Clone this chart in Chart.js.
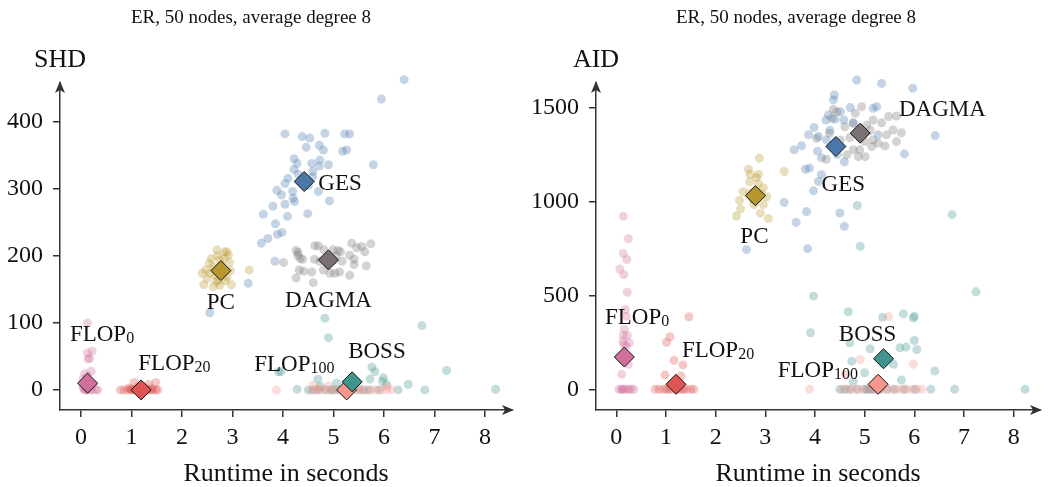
<!DOCTYPE html>
<html>
<head>
<meta charset="utf-8">
<script src="https://cdn.jsdelivr.net/npm/chart.js@4.4.1/dist/chart.umd.min.js"></script>
<style>
  html, body { margin: 0; padding: 0; background: #fff; }
  #wrap { position: relative; width: 1051px; height: 487px; overflow: hidden; }
  .panel { position: absolute; top: 0; height: 487px; }
</style>
</head>
<body>
<div id="wrap">
  <div class="panel" style="left:0;width:525px"><canvas id="chartShd" width="525" height="487"></canvas></div>
  <div class="panel" style="left:525px;width:526px"><canvas id="chartAid" width="526" height="487"></canvas></div>
</div>
<script>
// ---- data (runtime in seconds, metric value) ----
const algoNames = ["FLOP", "FLOP", "FLOP", "BOSS", "GES", "PC", "DAGMA"];
const algoSubs = ["0", "20", "100", "", "", "", ""];
const algoColors = [
  [208, 112, 154], [224, 84, 84], [248, 150, 142], [64, 150, 142],
  [74, 120, 170], [184, 152, 44], [122, 114, 114]
];

const titleText = "ER, 50 nodes, average degree 8";
const xTitle = "Runtime in seconds";
const runtimeTicks = [0, 1, 2, 3, 4, 5, 6, 7, 8];
const shdTicks = [0, 100, 200, 300, 400];
const aidTicks = [0, 500, 1000, 1500];

// SHD
const flop0Shd = [[0.13,100],[0.13,55],[0.22,58],[0.14,46],[0.17,47],[0.20,28],[0.07,24],[0.13,21],
  [0.04,16],[0.17,8],[0.07,0],[0.13,0],[0.22,0],[0.30,0],[0.33,0],[0.04,5],[0.24,8],[0.09,10],
  [0.10,0],[0.18,0],[0.05,2],[0.15,4]];
const flop20Shd = [[0.78,0],[0.85,0],[0.92,0],[0.98,0],[1.02,0],[1.05,0],[1.10,0],[1.15,0],[1.22,0],
  [1.28,0],[1.32,0],[1.38,0],[1.42,0],[1.48,0],[1.52,0],[1.05,11],[1.48,11],[1.34,8],[1.14,6],
  [1.25,4],[0.95,3],[1.40,2],[1.18,2],[1.30,0],[1.00,1]];
const flop100Shd = [[3.87,0],[4.55,0],[4.65,0],[4.75,0],[4.85,0],[4.95,0],[5.05,0],[5.15,0],[5.25,0],
  [5.35,0],[5.45,0],[5.55,0],[5.65,0],[5.75,0],[5.85,0],[5.95,0],[6.05,0],[6.15,0],[4.60,7],
  [4.90,6],[6.06,5],[5.20,3],[5.50,4],[4.70,2]];
const bossShd = [[4.83,107],[4.90,78],[6.75,96],[5.76,34],[5.82,27],[5.99,18],[5.72,16],[5.97,13],
  [7.24,29],[3.96,27],[3.91,27],[4.69,16],[6.48,8],[4.28,1],[6.81,0],[8.21,1],[6.28,0],[6.05,8],
  [5.39,8],[5.06,10],[4.74,5],[4.50,0],[4.60,0],[4.70,0],[4.85,0],[4.95,0],[5.00,0],[5.10,0],
  [5.20,0],[5.50,0],[5.60,0],[5.70,0],[5.90,0]];
const gesShd = [[6.40,463],[5.95,434],[4.04,382],[4.38,378],[4.53,376],[4.83,383],[5.22,382],[5.32,382],
  [4.46,362],[4.72,365],[4.80,358],[5.18,356],[5.26,358],[4.22,345],[4.28,338],[4.57,338],
  [4.73,343],[4.72,334],[4.90,336],[5.79,336],[4.59,326],[4.22,329],[4.10,316],[4.04,308],
  [4.59,318],[3.88,298],[3.97,291],[4.19,296],[4.20,286],[4.70,296],[4.92,282],[4.23,281],
  [4.04,277],[3.80,274],[3.61,262],[4.09,259],[4.49,263],[3.85,248],[3.70,226],[3.57,219],
  [3.98,235],[3.89,232],[3.84,192],[3.31,159],[2.55,115],[4.30,322],[4.50,305]];
const pcShd = [[2.69,209],[2.89,206],[2.84,206],[2.54,189],[2.94,190],[2.40,174],[2.96,178],[2.43,157],
  [2.62,154],[2.75,156],[2.98,157],[2.89,168],[2.56,174],[2.62,184],[2.75,194],[2.84,197],
  [2.50,166],[2.72,163],[3.33,179],[2.92,201],[2.47,179],[2.66,171],[2.80,174],[2.86,163],
  [2.70,200],[2.58,196],[2.78,186],[2.68,162]];
const dagmaShd = [[4.63,215],[4.70,215],[5.36,219],[5.56,214],[5.74,218],[5.46,212],[5.62,206],[4.26,208],
  [4.29,201],[4.34,196],[4.39,195],[4.62,195],[4.81,209],[4.99,209],[5.09,208],[5.14,206],
  [5.32,201],[5.41,195],[5.41,187],[4.01,190],[4.32,179],[4.41,177],[4.57,176],[4.80,179],
  [4.93,174],[5.03,174],[5.12,176],[5.32,171],[5.65,185],[4.26,167],[4.60,160],[4.99,193],
  [4.73,192],[5.17,192],[4.30,205],[5.05,200]];
const medianShd = [[0.13,10],[1.19,0],[5.26,0],[5.37,12],[4.42,311],[2.77,178],[4.90,194]];

// AID
const flop0Aid = [[0.14,921],[0.24,802],[0.14,723],[0.21,691],[0.07,641],[0.15,611],[0.22,517],[0.18,425],
  [0.20,389],[0.16,319],[0.14,287],[0.22,287],[0.13,257],[0.26,248],[0.20,230],[0.15,239],
  [0.24,133],[0.11,80],[0.05,0],[0.10,0],[0.15,0],[0.20,0],[0.25,0],[0.30,0],[0.35,0],[0.12,0]];
const flop20Aid = [[1.46,386],[1.08,280],[1.01,251],[1.16,154],[1.34,130],[0.98,76],[1.30,71],
  [0.78,0],[0.86,0],[0.95,0],[1.01,0],[1.06,0],[1.11,0],[1.21,0],[1.26,0],[1.31,0],[1.36,0],
  [1.41,0],[1.50,0],[1.56,0]];
const flop100Aid = [[3.89,0],[4.55,0],[4.65,0],[4.75,0],[4.85,0],[4.95,0],[5.05,0],[5.15,0],[5.25,0],
  [5.35,0],[5.45,0],[5.55,0],[5.65,0],[5.75,0],[5.85,0],[5.95,0],[6.05,0],[6.15,0],
  [5.48,387],[4.91,159],[5.98,133],[4.61,80]];
const bossAid = [[4.85,979],[6.76,930],[4.91,762],[3.97,496],[7.24,519],[4.67,413],[5.78,402],[5.36,384],
  [6.00,389],[5.98,380],[3.91,301],[4.70,248],[6.00,260],[5.11,216],[5.71,221],[5.83,225],
  [6.05,212],[4.74,150],[5.58,133],[6.41,97],[5.74,50],[4.77,41],[5.00,88],[6.33,0],[6.81,0],
  [8.23,0],[6.01,0],[4.50,0],[4.60,0],[4.70,0],[4.85,0],[5.00,0],[5.05,0],[5.10,0],[5.15,0],
  [5.20,0],[5.30,0],[5.45,0],[5.60,0],[5.80,0]];
const gesAid = [[4.84,1647],[5.34,1629],[5.97,1603],[4.39,1567],[4.37,1541],[4.71,1500],[5.24,1505],[5.17,1496],
  [4.22,1434],[4.40,1438],[4.58,1434],[4.77,1419],[3.98,1394],[3.87,1355],[4.07,1346],[4.23,1328],
  [5.27,1355],[6.42,1351],[3.58,1275],[3.73,1297],[4.05,1268],[4.13,1232],[4.59,1211],[5.80,1254],
  [3.81,1172],[3.89,1178],[4.13,1143],[4.07,1107],[3.97,1057],[3.38,995],[3.83,947],[4.50,939],
  [3.62,889],[4.59,868],[3.85,749],[2.62,744],[4.27,1460],[4.51,1478],[4.30,1380],[4.45,1250]];
const pcAid = [[2.88,1231],[2.66,1172],[3.38,1160],[2.69,1145],[2.86,1145],[2.82,1128],[2.68,1105],[2.96,1073],
  [2.55,1052],[3.03,1025],[2.48,1007],[2.77,984],[2.96,984],[2.50,961],[2.90,938],[2.42,923],
  [3.06,909],[2.69,1047],[2.86,1094],[2.75,1010],[2.92,1040]];
const dagmaAid = [[4.37,1490],[4.94,1505],[4.81,1470],[4.44,1478],[4.34,1443],[5.17,1434],[5.48,1452],[5.64,1455],
  [5.34,1419],[4.77,1416],[5.04,1407],[4.60,1398],[4.03,1336],[4.29,1363],[5.57,1381],[5.74,1366],
  [5.44,1355],[5.17,1328],[5.14,1293],[5.41,1296],[5.64,1319],[4.77,1275],[4.64,1248],[4.87,1239],
  [5.01,1239],[4.23,1225],[5.27,1310],[4.90,1275],[5.11,1381],[4.51,1328],[4.70,1340],[5.00,1320]];
const medianAid = [[0.16,172],[1.20,27],[5.27,27],[5.38,163],[4.42,1293],[2.80,1031],[4.91,1364]];

// label anchors (data units) and alignment
const shdLabelX = [-0.22, 1.135, 3.43, 5.29, 4.70, 2.77, 4.90];
const shdLabelY = [85, 41, 40, 60, 311, 132, 135];
const shdLabelAlign = ["left", "left", "left", "left", "left", "center", "center"];
const aidLabelX = [-0.23, 1.32, 3.25, 4.48, 4.57, 2.78, 5.69];
const aidLabelY = [393, 216, 106, 301, 1101, 823, 1500];
const aidLabelAlign = ["left", "left", "left", "left", "center", "center", "left"];

// ---- styling ----
const FONT = "'Liberation Serif', 'Times New Roman', serif";
const TEXT_COLOR = "#111";
const AXIS_COLOR = "#333";

const rgba = (c, a) => `rgba(${c[0]}, ${c[1]}, ${c[2]}, ${a})`;

function arrowHead(ctx, x, y, angle) {
  ctx.save();
  ctx.translate(x, y);
  ctx.rotate(angle);
  ctx.beginPath();
  ctx.moveTo(2, 0);
  ctx.lineTo(-10, -5);
  ctx.lineTo(-7, 0);
  ctx.lineTo(-10, 5);
  ctx.closePath();
  ctx.fill();
  ctx.restore();
}

// arrows, title, y label and the algorithm names
const decorPlugin = {
  id: "decor",
  afterDraw(chart) {
    const opts = chart.options.plugins.decor;
    const { ctx, chartArea: a, scales } = chart;
    ctx.save();
    ctx.fillStyle = AXIS_COLOR;
    arrowHead(ctx, a.right, a.bottom, 0);
    arrowHead(ctx, a.left, a.top, -Math.PI / 2);

    ctx.fillStyle = TEXT_COLOR;
    ctx.textBaseline = "middle";
    ctx.textAlign = "center";
    ctx.font = `19px ${FONT}`;
    ctx.fillText(titleText, opts.titleX, 18);
    ctx.font = `26px ${FONT}`;
    ctx.fillText(opts.yLabel, a.left, 60);

    ctx.textBaseline = "alphabetic";
    ctx.textAlign = "left";
    algoNames.forEach((name, i) => {
      const px = scales.x.getPixelForValue(opts.labelX[i]);
      const py = scales.y.getPixelForValue(opts.labelY[i]) + 8;
      ctx.font = `23px ${FONT}`;
      const w1 = ctx.measureText(name).width;
      ctx.font = `16px ${FONT}`;
      const w2 = algoSubs[i] ? ctx.measureText(algoSubs[i]).width : 0;
      const x0 = opts.labelAlign[i] === "center" ? px - (w1 + w2) / 2 : px;
      ctx.font = `23px ${FONT}`;
      ctx.fillText(name, x0, py);
      if (algoSubs[i]) {
        ctx.font = `16px ${FONT}`;
        ctx.fillText(algoSubs[i], x0 + w1, py + 2);
      }
    });
    ctx.restore();
  }
};

function buildChart(canvasId, cfg) {
  const datasets = cfg.series.map((pts, i) => ({
    data: pts.map(p => ({ x: p[0], y: p[1] })),
    backgroundColor: rgba(algoColors[i], 0.32),
    borderWidth: 0,
    pointRadius: 4.5,
    clip: false,
    order: 2
  }));
  datasets.push({
    data: cfg.medians.map(p => ({ x: p[0], y: p[1] })),
    backgroundColor: algoColors.map(c => rgba(c, 1)),
    borderColor: "#111",
    borderWidth: 1,
    pointStyle: "rectRot",
    pointRadius: 10,
    clip: false,
    order: 1
  });

  const tickFont = { family: FONT, size: 24 };
  return new Chart(document.getElementById(canvasId), {
    type: "scatter",
    data: { datasets },
    options: {
      responsive: false,
      animation: false,
      events: [],
      layout: { padding: { top: 83, right: cfg.padRight, left: 0, bottom: 0 } },
      plugins: {
        legend: { display: false },
        tooltip: { enabled: false },
        decor: {
          titleX: cfg.titleX,
          yLabel: cfg.yLabel,
          labelX: cfg.labelX,
          labelY: cfg.labelY,
          labelAlign: cfg.labelAlign
        }
      },
      scales: {
        x: {
          type: "linear",
          min: cfg.xMin,
          max: cfg.xMax,
          afterFit: s => { s.height = 77; },
          afterBuildTicks: s => { s.ticks = runtimeTicks.map(v => ({ value: v })); },
          border: { color: AXIS_COLOR, width: 1.5 },
          grid: { drawOnChartArea: false, tickLength: 7, color: AXIS_COLOR, lineWidth: 1.5 },
          ticks: { padding: 6, color: TEXT_COLOR, font: tickFont },
          title: {
            display: true, text: xTitle, color: TEXT_COLOR,
            font: { family: FONT, size: 26, lineHeight: 1 }, padding: 0
          }
        },
        y: {
          type: "linear",
          min: cfg.yMin,
          max: cfg.yMax,
          afterFit: s => { s.width = cfg.yWidth; },
          afterBuildTicks: s => { s.ticks = cfg.yTicks.map(v => ({ value: v })); },
          border: { color: AXIS_COLOR, width: 1.5 },
          grid: { drawOnChartArea: false, tickLength: 7, color: AXIS_COLOR, lineWidth: 1.5 },
          ticks: { padding: 10, color: TEXT_COLOR, font: tickFont, callback: v => String(v) }
        }
      }
    },
    plugins: [decorPlugin]
  });
}

buildChart("chartShd", {
  series: [flop0Shd, flop20Shd, flop100Shd, bossShd, gesShd, pcShd, dagmaShd],
  medians: medianShd,
  labelX: shdLabelX, labelY: shdLabelY, labelAlign: shdLabelAlign,
  yLabel: "SHD", titleX: 251, yTicks: shdTicks,
  xMin: -0.416, xMax: 8.535, yMin: -30, yMax: 458,
  yWidth: 60, padRight: 13
});

buildChart("chartAid", {
  series: [flop0Aid, flop20Aid, flop100Aid, bossAid, gesAid, pcAid, dagmaAid],
  medians: medianAid,
  labelX: aidLabelX, labelY: aidLabelY, labelAlign: aidLabelAlign,
  yLabel: "AID", titleX: 271, yTicks: aidTicks,
  xMin: -0.41, xMax: 8.53, yMin: -110, yMax: 1631,
  yWidth: 71, padRight: 11
});
</script>
</body>
</html>
